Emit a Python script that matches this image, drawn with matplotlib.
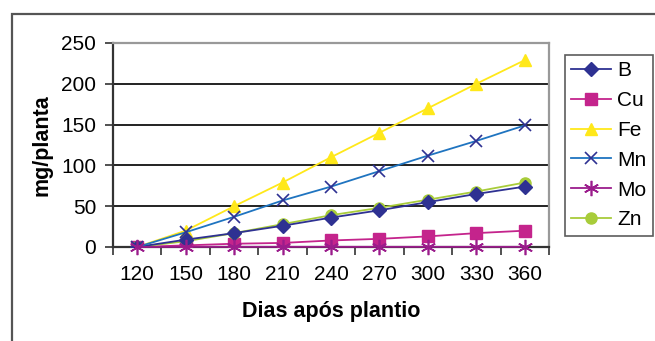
import matplotlib
matplotlib.use("Agg")
import matplotlib.pyplot as plt
from matplotlib.patches import Rectangle
import numpy as np

plt.rcParams['font.family'] = ['Liberation Sans', 'DejaVu Sans']

dias = ["120", "150", "180", "210", "240", "270", "300", "330", "360"]
B = [0, 9, 17, 26, 36, 45, 55, 65, 74]
Cu = [0, 2, 4, 5, 8, 10, 13, 17, 20]
Fe = [0, 20, 50, 79, 110, 140, 170, 200, 229]
Mn = [0, 18, 37, 57, 74, 93, 112, 130, 149]
Mo = [0, 0.2, 0.2, 0.2, 0.2, 0.2, 0.2, 0.2, 0.2]
Zn = [0, 7, 17, 28, 39, 48, 58, 68, 79]

x = np.arange(len(dias))

fig = plt.figure(figsize=(6.55, 3.41), dpi=100)
ax = fig.add_axes([113/655, 1-247/341, (549-113)/655, (247-43)/341])

# outer border (right/bottom edges fall outside the canvas)
fig.patches.append(Rectangle((12/655, -0.1), 1.2, 1-14/341+0.1,
                             transform=fig.transFigure, fill=False,
                             edgecolor='#555555', linewidth=1.6, zorder=0))

ax.plot(x, B, color='#2E3192', lw=1.3, marker='D', ms=7, label='B', zorder=5)
ax.plot(x, Cu, color='#C4248C', lw=1.3, marker='s', ms=8, label='Cu', zorder=4)
ax.plot(x, Fe, color='#FFE81A', lw=1.3, marker='^', ms=9, label='Fe', zorder=3)
ax.plot(x, Mn, color='#1F74C0', lw=1.3, marker='x', ms=8, mec='#2E3192',
        mew=1.2, label='Mn', zorder=6)
ax.plot(x, Mo, color='#9B1C8C', lw=1.3, marker=(6, 2, 0), ms=11, mew=1.2,
        label='Mo', zorder=7, clip_on=False)
ax.plot(x, Zn, color='#A8CC3A', lw=1.3, marker='o', ms=8, label='Zn', zorder=4)

ax.set_xlim(-0.5, len(dias) - 0.5)
ax.set_ylim(0, 250)
ax.set_yticks(np.arange(0, 251, 50))
ax.grid(axis='y', color='#222222', linewidth=1.4, zorder=0)
ax.set_axisbelow(True)

ax.set_xticks(x)
ax.set_xticklabels(dias)
ax.set_xticks(np.arange(len(dias) + 1) - 0.5, minor=True)
ax.tick_params(axis='x', which='major', length=0, pad=13, labelsize=15)
ax.tick_params(axis='x', which='minor', length=6, width=1.2, color='#333333')
ax.tick_params(axis='y', length=6, width=1.2, color='#333333', pad=6,
               labelsize=15)

for s in ['left', 'bottom']:
    ax.spines[s].set_color('#333333')
    ax.spines[s].set_linewidth(1.6)
for s in ['top', 'right']:
    ax.spines[s].set_color('#999999')
    ax.spines[s].set_linewidth(1.6)

ax.set_xlabel('Dias após plantio', fontsize=15.5, fontweight='bold', labelpad=12)
ax.set_ylabel('mg/planta', fontsize=15.5, fontweight='bold', labelpad=6)

leg = fig.legend(loc='upper left', bbox_to_anchor=(565/655, 1-55/341),
                 borderaxespad=0, frameon=True, fancybox=False, fontsize=15,
                 handlelength=1.9, labelspacing=0.52, borderpad=0.3,
                 handletextpad=0.3)
leg.get_frame().set_edgecolor('#333333')
leg.get_frame().set_linewidth(1.2)

fig.savefig('out.png', dpi=100)
